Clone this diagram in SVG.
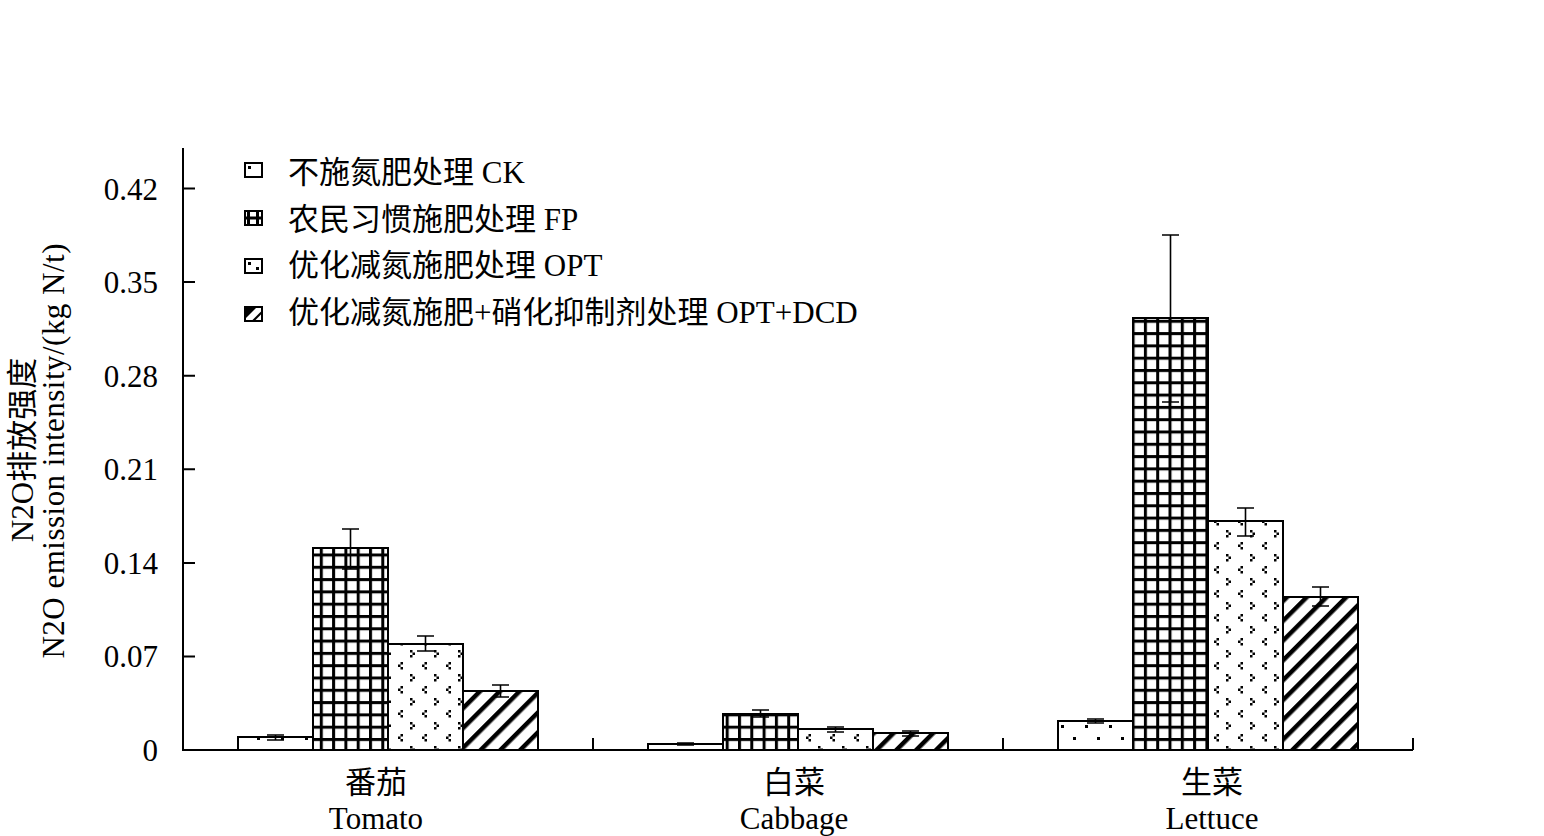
<svg xmlns="http://www.w3.org/2000/svg" width="1544" height="836" viewBox="0 0 1544 836">
<style>
text{font-family:"Liberation Serif","Noto Sans CJK SC",serif;font-size:31px;fill:#000}
.ax{stroke:#000;stroke-width:2;fill:none}
.bar{stroke:#000;stroke-width:2}
.eb{stroke:#000;stroke-width:1.6;fill:none}
.ic{fill:#fff;stroke:#000;stroke-width:2}
</style>
<defs>
<pattern id="pCK" width="24" height="24" patternUnits="userSpaceOnUse">
<rect width="24" height="24" fill="#fff"/>
<rect x="5" y="5" width="3" height="3" fill="#000"/>
<rect x="17" y="17" width="3" height="3" fill="#000"/>
</pattern>
<pattern id="pFP" width="12.3" height="12.3" patternUnits="userSpaceOnUse">
<rect width="12.3" height="12.3" fill="#fff"/>
<rect width="3" height="12.3" fill="#000"/>
<rect width="12.3" height="3" fill="#000"/>
</pattern>
<pattern id="pOPT" width="24" height="24" patternUnits="userSpaceOnUse">
<rect width="24" height="24" fill="#fff"/>
<path d="M2,2h2.5v2.5h-2.5z M4.5,4.5h2.5v2.5h-2.5z M2,7h2.5v2.5h-2.5z M16.5,14h2.5v2.5h-2.5z M14,16.5h2.5v2.5h-2.5z M16.5,19h2.5v2.5h-2.5z" fill="#000"/>
</pattern>
<pattern id="pDCD" width="14" height="14" patternUnits="userSpaceOnUse" patternTransform="rotate(45)">
<rect width="14" height="14" fill="#fff"/>
<rect width="4.5" height="14" fill="#000"/>
</pattern>
</defs>
<rect width="1544" height="836" fill="#fff"/>

<g id="axes">
<path class="ax" d="M183,148V750H1413"/>
<path class="ax" d="M183,656.4h12M183,562.9h12M183,469.3h12M183,375.7h12M183,282.1h12M183,188.6h12"/>
<path class="ax" d="M593,750v-12M1003,750v-12M1413,750v-12"/>
</g>

<g id="ytick-labels" text-anchor="end">
<text x="158" y="761">0</text>
<text x="158" y="667">0.07</text>
<text x="158" y="574">0.14</text>
<text x="158" y="480">0.21</text>
<text x="158" y="387">0.28</text>
<text x="158" y="293">0.35</text>
<text x="158" y="200">0.42</text>
</g>

<g id="ytitle" text-anchor="middle">
<text transform="translate(33,450) rotate(-90)">N2O排放强度</text>
<text transform="translate(64,451) rotate(-90)" textLength="415" lengthAdjust="spacing">N2O emission intensity/(kg N/t)</text>
</g>

<g id="legend">
<rect class="ic" x="245" y="163" width="17" height="14"/>
<rect x="248" y="166" width="3" height="3"/>
<text x="288" y="183">不施氮肥处理 CK</text>
<rect class="ic" x="245" y="211" width="17" height="14"/>
<rect x="247" y="211" width="3" height="14"/>
<rect x="256" y="211" width="3" height="14"/>
<rect x="245" y="216.5" width="17" height="3"/>
<text x="288" y="230">农民习惯施肥处理 FP</text>
<rect class="ic" x="245" y="259" width="17" height="14"/>
<rect x="248" y="262" width="3" height="3"/>
<rect x="256" y="267" width="3" height="3"/>
<text x="288" y="276">优化减氮施肥处理 OPT</text>
<rect class="ic" x="245" y="307" width="17" height="14"/>
<polygon points="245,307 257,307 245,319"/>
<line x1="253" y1="321" x2="262" y2="312" stroke="#000" stroke-width="2"/>
<text x="288" y="323">优化减氮施肥+硝化抑制剂处理 OPT+DCD</text>
</g>

<g id="tomato">
<rect class="bar" x="238" y="737" width="75" height="13" fill="url(#pCK)"/>
<rect class="bar" x="313" y="548" width="75" height="202" fill="url(#pFP)"/>
<rect class="bar" x="388" y="644" width="75" height="106" fill="url(#pOPT)"/>
<rect class="bar" x="463" y="691" width="75" height="59" fill="url(#pDCD)"/>
<path class="eb" d="M275.5,735v5M267,735h17M267,740h17"/>
<path class="eb" d="M350.5,529v40M342,529h17M342,569h17"/>
<path class="eb" d="M425.5,636v15M417,636h17M417,651h17"/>
<path class="eb" d="M500.5,685v12M492,685h17M492,697h17"/>
</g>

<g id="cabbage">
<rect class="bar" x="648" y="744" width="75" height="6" fill="url(#pCK)"/>
<rect class="bar" x="723" y="714" width="75" height="36" fill="url(#pFP)"/>
<rect class="bar" x="798" y="729" width="75" height="21" fill="url(#pOPT)"/>
<rect class="bar" x="873" y="733" width="75" height="17" fill="url(#pDCD)"/>
<path class="eb" d="M685.5,743v2M677,743h17M677,745h17"/>
<path class="eb" d="M760.5,710v7M752,710h17M752,717h17"/>
<path class="eb" d="M835.5,727v5M827,727h17M827,732h17"/>
<path class="eb" d="M910.5,731v5M902,731h17M902,736h17"/>
</g>

<g id="lettuce">
<rect class="bar" x="1058" y="721" width="75" height="29" fill="url(#pCK)"/>
<rect class="bar" x="1133" y="318" width="75" height="432" fill="url(#pFP)"/>
<rect class="bar" x="1208" y="521" width="75" height="229" fill="url(#pOPT)"/>
<rect class="bar" x="1283" y="597" width="75" height="153" fill="url(#pDCD)"/>
<path class="eb" d="M1095.5,719v4M1087,719h17M1087,723h17"/>
<path class="eb" d="M1170.5,235v167M1162,235h17M1162,402h17"/>
<path class="eb" d="M1245.5,508v28M1237,508h17M1237,536h17"/>
<path class="eb" d="M1320.5,587v19M1312,587h17M1312,606h17"/>
</g>

<g id="category-labels" text-anchor="middle">
<text x="376" y="793">番茄</text>
<text x="376" y="829">Tomato</text>
<text x="794" y="793">白菜</text>
<text x="794" y="829">Cabbage</text>
<text x="1212" y="793">生菜</text>
<text x="1212" y="829">Lettuce</text>
</g>
</svg>
